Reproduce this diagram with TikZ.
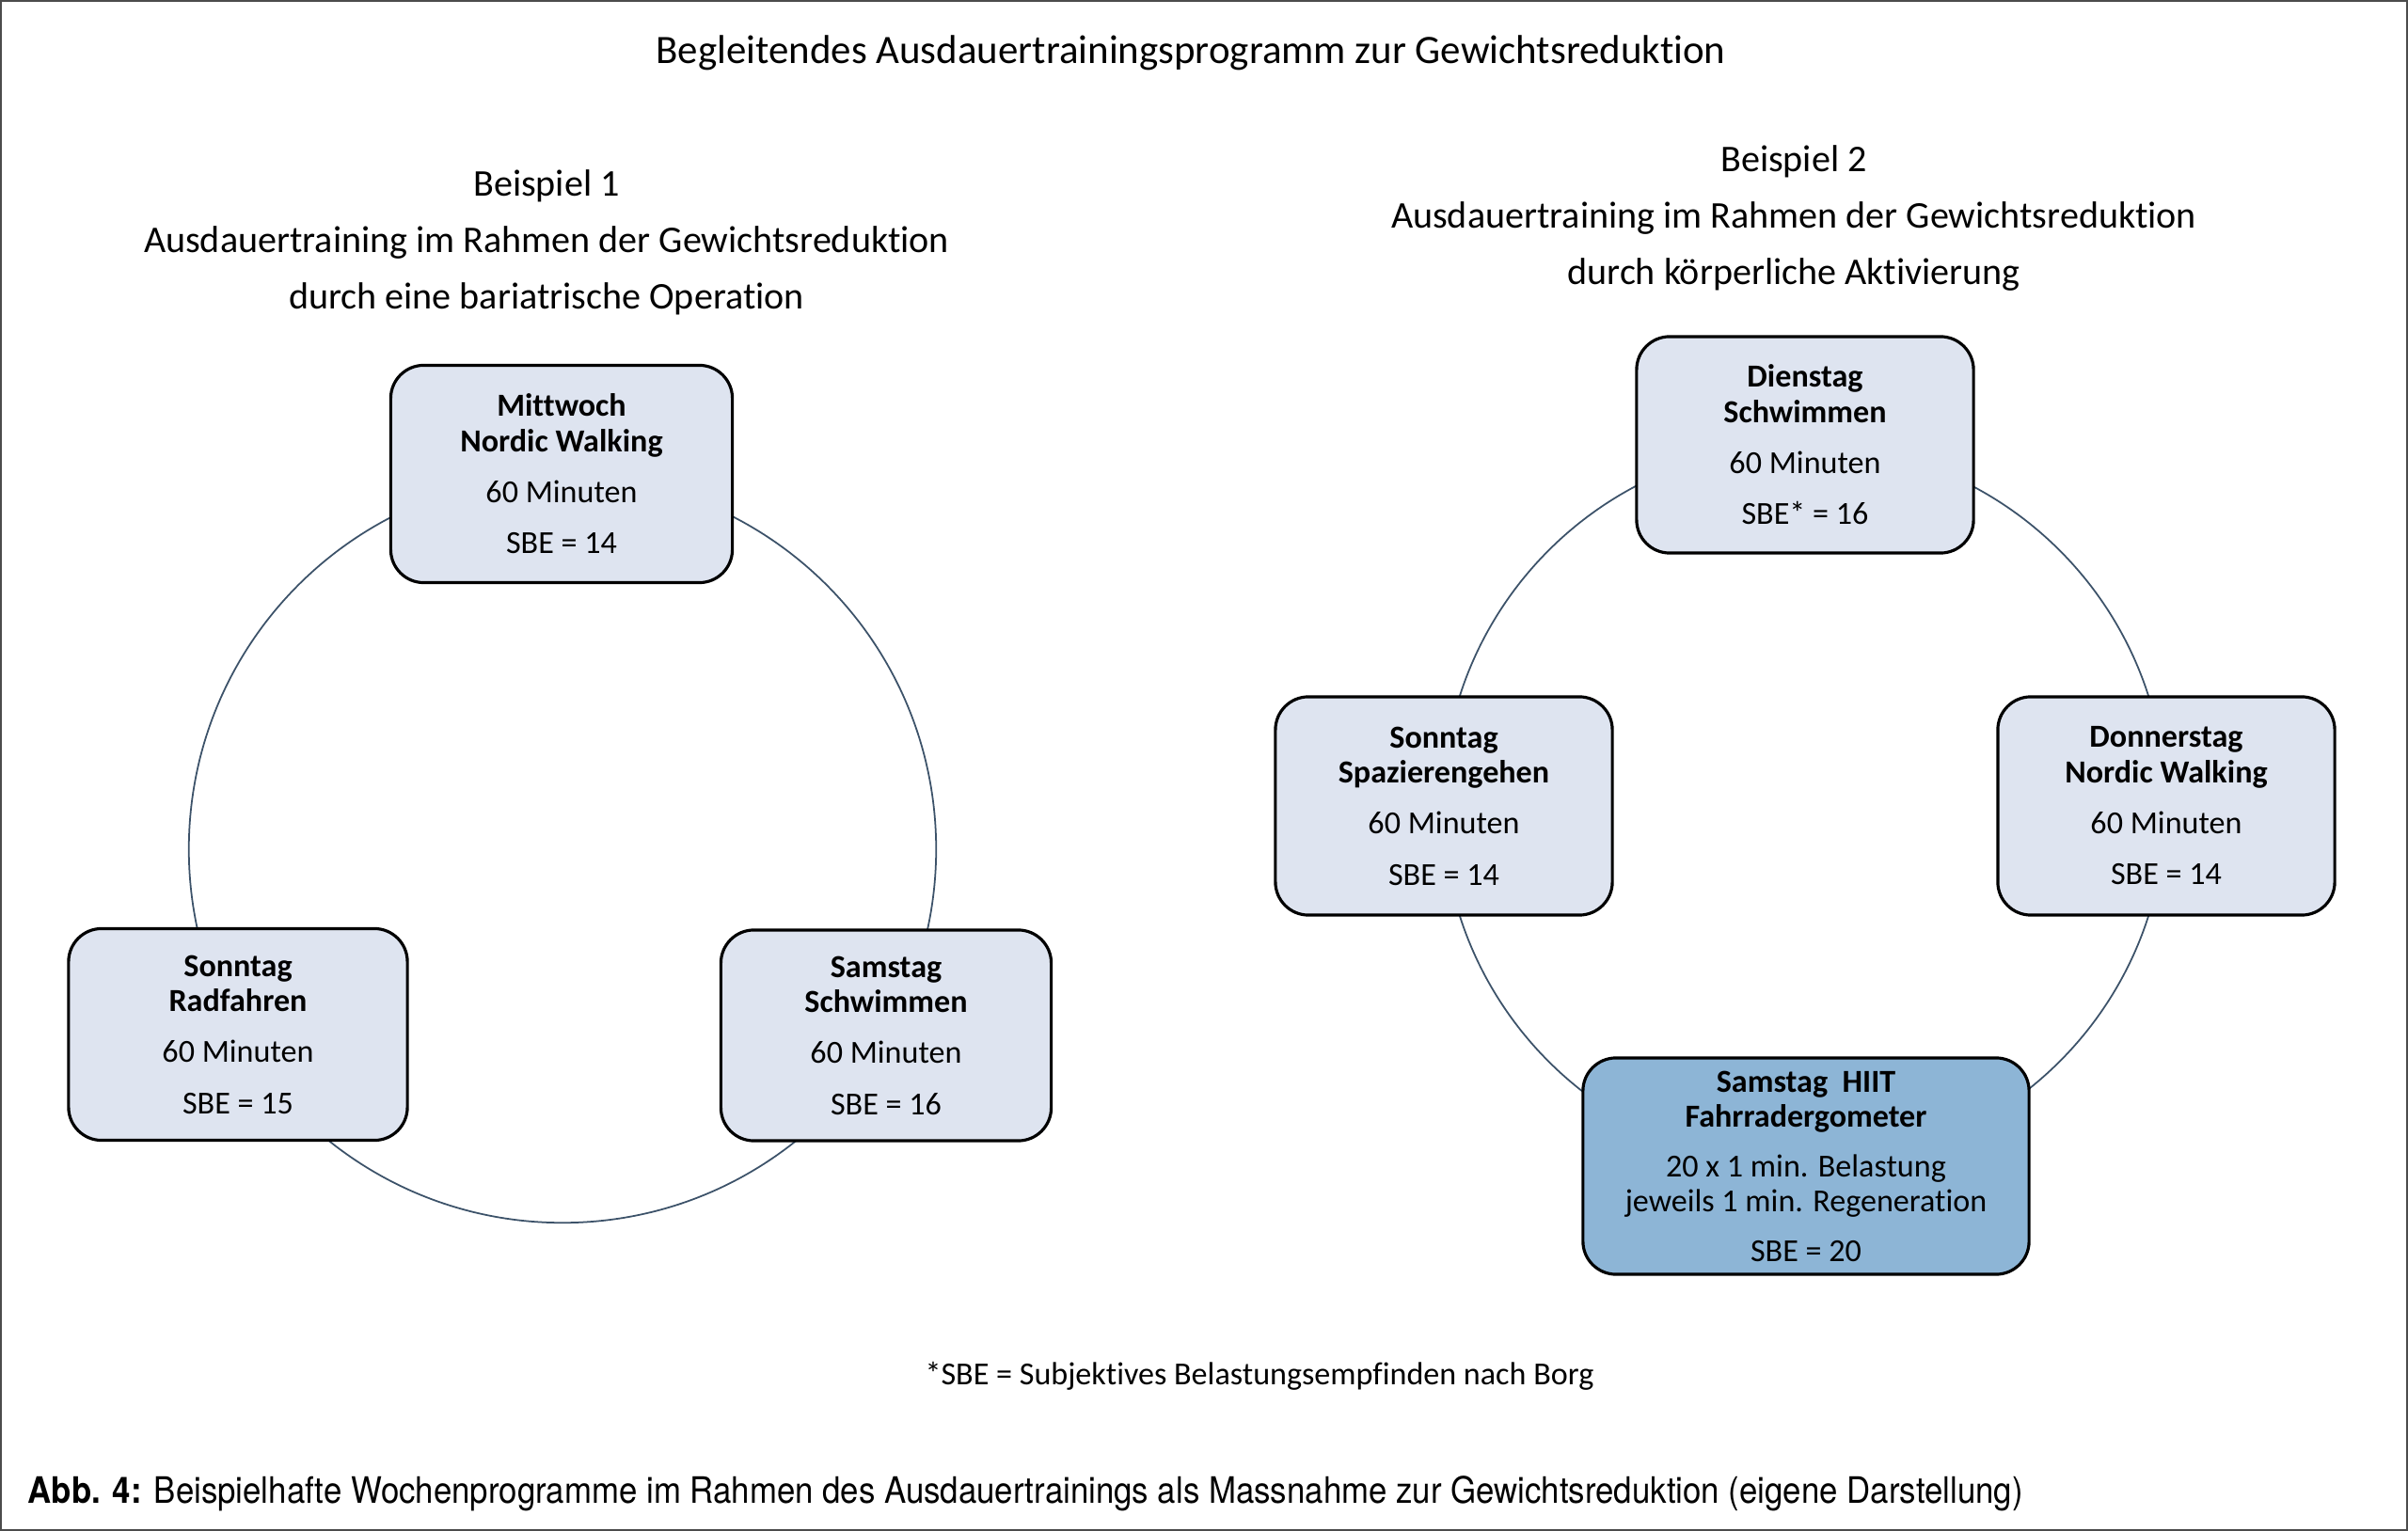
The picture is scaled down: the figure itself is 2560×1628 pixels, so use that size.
\documentclass[tikz,border=0pt]{standalone}
\usepackage{fontspec}
\setmainfont[Ligatures=NoCommon]{Carlito}
\newfontfamily\capfont[FakeStretch=0.9]{TeX Gyre Heros}
\usetikzlibrary{positioning, calc}
\definecolor{boxfill}{HTML}{DEE4F0}
\definecolor{hiitfill}{HTML}{8DB5D6}
\definecolor{ringline}{HTML}{3C5269}

\begin{document}
\begin{tikzpicture}[x=0.01cm, y=-0.01cm,
  day/.style={rectangle, draw=black, line width=0.9pt, fill=boxfill, rounded corners=10pt,
              align=center, minimum width=3.6cm, minimum height=2.28cm, inner sep=0pt,
              font=\fontsize{9.7}{10.7}\selectfont},
  heading/.style={align=center, font=\fontsize{11.4}{17}\selectfont},
  ring/.style={draw=ringline, line width=0.5pt}
]
  \useasboundingbox (0,0) rectangle (2560,1628);
  \draw[line width=0.6pt, black!70] (1,1) rectangle (2559,1627);

  % titles
  \node[heading, font=\fontsize{12.2}{17}\selectfont] (title) at (1266,56) {Begleitendes Ausdauertrainingsprogramm zur Gewichtsreduktion};
  \node[heading] (head1) at (581,258) {Beispiel 1\\Ausdauertraining im Rahmen der Gewichtsreduktion\\durch eine bariatrische Operation};
  \node[heading] (head2) at (1907,232) {Beispiel 2\\Ausdauertraining im Rahmen der Gewichtsreduktion\\durch körperliche Aktivierung};

  % Beispiel 1
  \coordinate (ring1) at (598,903);
  \draw[ring] (ring1) circle[radius=3.97cm];
  \node[day, minimum width=3.63cm, minimum height=2.31cm] (mi1) at (597,504)
    {\textbf{Mittwoch}\\\textbf{Nordic Walking}\\[4.7pt]60 Minuten\\[4.7pt]SBE = 14};
  \node[day, minimum height=2.25cm] (so1) at (253,1100)
    {\textbf{Sonntag}\\\textbf{Radfahren}\\[4.7pt]60 Minuten\\[4.7pt]SBE = 15};
  \node[day, minimum width=3.51cm, minimum height=2.24cm] (sa1) at (942,1101)
    {\textbf{Samstag}\\\textbf{Schwimmen}\\[4.7pt]60 Minuten\\[4.7pt]SBE = 16};

  % Beispiel 2
  \coordinate (ring2) at (1918,857);
  \draw[ring] (ring2) circle[radius=3.84cm];
  \node[day, minimum width=3.58cm, minimum height=2.3cm] (di2) at (1919,473)
    {\textbf{Dienstag}\\\textbf{Schwimmen}\\[4.7pt]60 Minuten\\[4.7pt]SBE* = 16};
  \node[day, minimum width=3.58cm, minimum height=2.32cm] (so2) at (1535,857)
    {\textbf{Sonntag}\\\textbf{Spazierengehen}\\[4.7pt]60 Minuten\\[4.7pt]SBE = 14};
  \node[day, minimum width=3.58cm, minimum height=2.32cm] (do2) at (2303,857)
    {\textbf{Donnerstag}\\\textbf{Nordic Walking}\\[4.7pt]60 Minuten\\[4.7pt]SBE = 14};
  \node[day, fill=hiitfill, minimum width=4.74cm, minimum height=2.3cm] (sa2) at (1920,1240)
    {\textbf{Samstag\ \ HIIT}\\\textbf{Fahrradergometer}\\[4.2pt]20 x 1 min. Belastung\\jeweils 1 min. Regeneration\\[4.2pt]SBE = 20};

  % footnote and caption
  \node[font=\fontsize{9.7}{11}\selectfont] (note) at (1339,1463) {*SBE = Subjektives Belastungsempfinden nach Borg};
  \node[anchor=base west, inner sep=0pt, font=\capfont\fontsize{11}{13}\selectfont] (caption) at (29,1598)
    {\textbf{Abb. 4:} Beispielhafte Wochenprogramme im Rahmen des Ausdauertrainings als Massnahme zur Gewichtsreduktion (eigene Darstellung)};
\end{tikzpicture}
\end{document}
